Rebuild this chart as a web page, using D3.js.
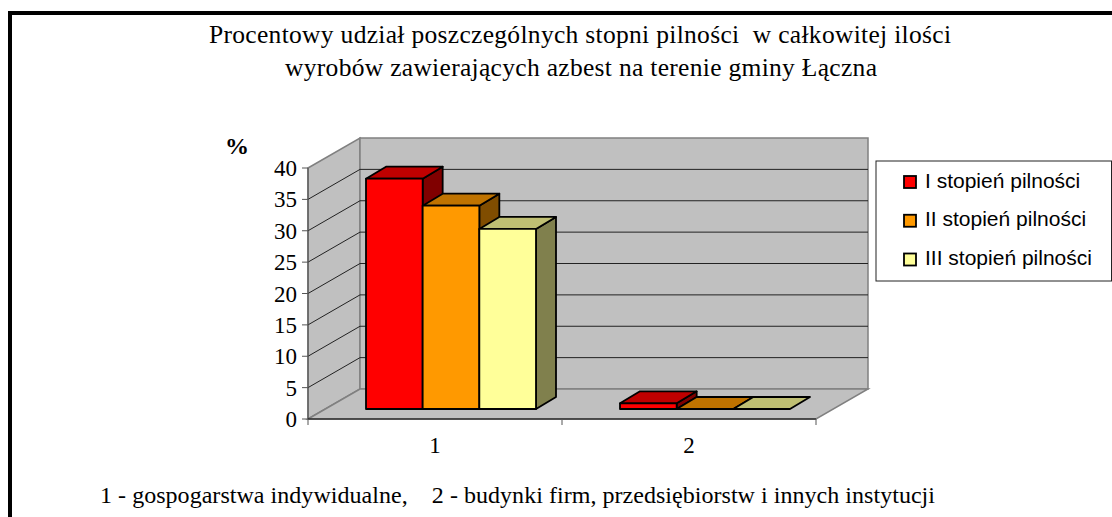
<!DOCTYPE html>
<html><head><meta charset="utf-8">
<script src="https://cdn.jsdelivr.net/npm/d3@7/dist/d3.min.js"></script>
<style>html,body{margin:0;padding:0;background:#fff;overflow:hidden}svg{display:block}
text{font-family:"Liberation Serif",serif;fill:#000;white-space:pre}</style></head><body>
<svg id="c" width="1112" height="517"></svg>
<script>
const categories=["1","2"];
const seriesNames=["I stopień pilności","II stopień pilności","III stopień pilności"];
const serI=[36.7,0.9];
const serII=[32.4,0];
const serIII=[28.7,0];
const yTicks=[0,5,10,15,20,25,30,35,40];
const titleLines=["Procentowy udział poszczególnych stopni pilności  w całkowitej ilości","wyrobów zawierających azbest na terenie gminy Łączna"];
const yTitle="%";
const footnote="1 - gospogarstwa indywidualne,    2 - budynki firm, przedsiębiorstw i innych instytucji";
const colors=["#ff0000","#ff9900","#ffff99"];
const topColors=["#bf0000","#bf7300","#bfbf73"];
const sideColors=["#800000","#804d00","#80804d"];

const svg=d3.select("#c");
const y=d3.scaleLinear().domain([0,40]).range([419,168]);
const x0=d3.scaleBand().domain(categories).range([308,816]);
const groupW=170;
const x1=d3.scaleBand().domain(d3.range(3)).range([0,groupW]);
const D={x:52,y:-30},B0={x:16,y:-10},B1={x:36,y:-22};
const poly=p=>p.map(a=>a.join(",")).join(" ");

svg.append("rect").attr("x",10).attr("y",13).attr("width",1120).attr("height",540).attr("fill","#fff").attr("stroke","#000").attr("stroke-width",4);

const x_l=x0.range()[0],x_r=x0.range()[1],yb=y(0),yt=y(40);
const wall={fill:"#c0c0c0",stroke:"#808080","stroke-width":1.5};
const P=(s,a)=>{const e=svg.append("polygon").attr("points",poly(a));Object.entries(s).forEach(([k,v])=>e.attr(k,v));return e};
P(wall,[[x_l,yt],[x_l+D.x,yt+D.y],[x_l+D.x,yb+D.y],[x_l,yb]]);
P(wall,[[x_l+D.x,yt+D.y],[x_r+D.x,yt+D.y],[x_r+D.x,yb+D.y],[x_l+D.x,yb+D.y]]);
P(wall,[[x_l,yb],[x_l+D.x,yb+D.y],[x_r+D.x,yb+D.y],[x_r,yb]]);
yTicks.slice(1,-1).forEach(v=>{
  svg.append("path").attr("d",`M${x_l},${y(v)}L${x_l+D.x},${y(v)+D.y}H${x_r+D.x}`).attr("fill","none").attr("stroke","#222").attr("stroke-width",1);
});
svg.append("path").attr("d",`M${x_l},${yt}V${yb}`).attr("stroke","#555").attr("stroke-width",1.2);
svg.append("path").attr("d",`M${x_l},${yb}H${x_r}`).attr("stroke","#000").attr("stroke-width",1.2);
yTicks.forEach(v=>{
  svg.append("line").attr("x1",x_l-6).attr("x2",x_l).attr("y1",y(v)).attr("y2",y(v)).attr("stroke","#555");
  svg.append("text").attr("x",x_l-11).attr("y",y(v)+8).attr("text-anchor","end").attr("font-size",23).text(v);
});
[...categories.map(c=>x0(c)),x_r].forEach(v=>{
  svg.append("line").attr("x1",v).attr("x2",v).attr("y1",yb).attr("y2",yb+6).attr("stroke","#555");
});
categories.forEach(c=>svg.append("text").attr("x",x0(c)+x0.bandwidth()/2).attr("y",453).attr("text-anchor","middle").attr("font-size",23).text(c));

const series=[serI,serII,serIII];
const inset=(x0.bandwidth()-groupW)/2;
categories.forEach((c,ci)=>{
  [0,1,2].forEach(si=>{
    const v=series[si][ci];
    const xl=x0(c)+inset+x1(si)+B0.x, xr=xl+x1.bandwidth();
    const yf=y(0)+B0.y, yv=y(v)+B0.y;
    const dx=B1.x-B0.x, dy=B1.y-B0.y;
    const st={stroke:"#000","stroke-width":1.8,"stroke-linejoin":"round"};
    if(v>0)P({...st,fill:sideColors[si]},[[xr,yv],[xr+dx,yv+dy],[xr+dx,yf+dy],[xr,yf]]);
    P({...st,fill:topColors[si]},[[xl,yv],[xl+dx,yv+dy],[xr+dx,yv+dy],[xr,yv]]);
    if(v>0)P({...st,fill:colors[si]},[[xl,yv],[xr,yv],[xr,yf],[xl,yf]]);
  });
});

const tl=[[580,43,742],[581,76,592]];
titleLines.forEach((t,i)=>svg.append("text").attr("x",tl[i][0]).attr("y",tl[i][1]).attr("text-anchor","middle").attr("font-size",25.5).attr("textLength",tl[i][2]).attr("lengthAdjust","spacing").text(t));
svg.append("text").attr("x",237).attr("y",154).attr("text-anchor","middle").attr("font-size",24).attr("font-weight","bold").text(yTitle);
svg.append("text").attr("x",100).attr("y",503).attr("font-size",24).attr("textLength",835).attr("lengthAdjust","spacing").text(footnote);

svg.append("rect").attr("x",876).attr("y",161).attr("width",235.5).attr("height",120).attr("fill","#fff").attr("stroke","#222").attr("stroke-width",1);
const ly=d3.scalePoint().domain(d3.range(3)).range([182,259.5]);
seriesNames.forEach((n,i)=>{
  svg.append("rect").attr("x",904).attr("y",ly(i)-6).attr("width",12).attr("height",12).attr("fill",colors[i]).attr("stroke","#000").attr("stroke-width",1.8);
  svg.append("text").attr("x",925).attr("y",ly(i)+5.5).attr("font-size",21).style("font-family","'Liberation Sans',sans-serif").text(n);
});
</script></body></html>
